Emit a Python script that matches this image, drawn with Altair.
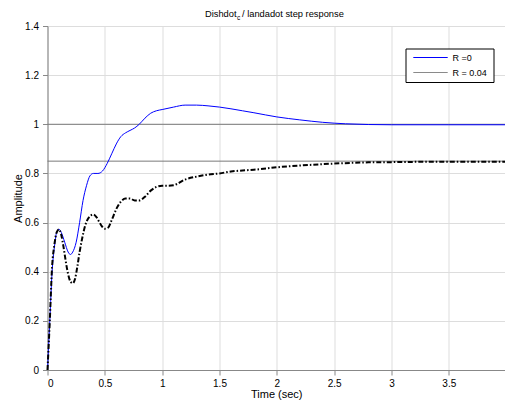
import altair as alt
import pandas as pd

# Step response, R = 0
t_r0 = [0, 0.02, 0.04, 0.06, 0.08, 0.1, 0.12, 0.15, 0.18, 0.2, 0.22, 0.25, 0.28, 0.31,
        0.34, 0.37, 0.4, 0.44, 0.48, 0.52, 0.56, 0.6, 0.64, 0.68, 0.72, 0.76, 0.8, 0.85,
        0.9, 0.95, 1.0, 1.1, 1.2, 1.3, 1.4, 1.5, 1.6, 1.7, 1.8, 2.0, 2.2, 2.4, 2.6, 2.8,
        3.0, 3.5, 4.0]
y_r0 = [0, 0.2, 0.4, 0.5, 0.56, 0.573, 0.56, 0.52, 0.48, 0.47, 0.48, 0.52, 0.6, 0.69,
        0.75, 0.79, 0.80, 0.80, 0.81, 0.84, 0.88, 0.92, 0.95, 0.965, 0.975, 0.985, 1.0,
        1.025, 1.045, 1.055, 1.06, 1.07, 1.078, 1.078, 1.075, 1.07, 1.063, 1.055, 1.047,
        1.03, 1.018, 1.008, 1.002, 0.999, 0.998, 0.998, 0.998]

# Step response, R = 0.04
t_r004 = [0, 0.02, 0.04, 0.06, 0.08, 0.1, 0.12, 0.14, 0.16, 0.18, 0.2, 0.22, 0.24, 0.26,
          0.28, 0.3, 0.33, 0.36, 0.4, 0.43, 0.46, 0.5, 0.53, 0.56, 0.6, 0.64, 0.68, 0.72,
          0.76, 0.8, 0.85, 0.9, 0.95, 1.0, 1.05, 1.1, 1.2, 1.3, 1.4, 1.5, 1.6, 1.7, 1.8,
          2.0, 2.2, 2.5, 2.8, 3.0, 3.5, 4.0]
y_r004 = [0, 0.2, 0.42, 0.51, 0.56, 0.572, 0.55, 0.5, 0.44, 0.39, 0.36, 0.353, 0.37, 0.42,
          0.48, 0.53, 0.59, 0.62, 0.633, 0.62, 0.595, 0.575, 0.58, 0.61, 0.655, 0.685,
          0.698, 0.698, 0.69, 0.69, 0.705, 0.73, 0.745, 0.75, 0.75, 0.752, 0.775, 0.787,
          0.795, 0.80, 0.808, 0.812, 0.815, 0.825, 0.832, 0.84, 0.845, 0.846, 0.848, 0.848]

steady_levels = [1.0, 0.85]
legend_labels = ["R =0", "R = 0.04"]
legend_colors = ["#0000ff", "#8a8a8a"]
x_ticks = [0, 0.5, 1, 1.5, 2, 2.5, 3, 3.5]
y_ticks = [0, 0.2, 0.4, 0.6, 0.8, 1.0, 1.2, 1.4]

FONT = "Liberation Sans"

xs = alt.Scale(domain=[0, 3.99], nice=False, zero=False)
ys = alt.Scale(domain=[0, 1.4], nice=False)

x_axis = alt.Axis(values=x_ticks, title="Time (sec)", grid=True, labelPadding=3,
                  titlePadding=0, format="~g", titleFontWeight="normal")
y_axis = alt.Axis(values=y_ticks, title="Amplitude", grid=True, labelPadding=4,
                  titlePadding=1, format="~g", titleFontWeight="normal")

r0 = pd.DataFrame({"t": t_r0, "y": y_r0})
r004 = pd.DataFrame({"t": t_r004, "y": y_r004})
levels = pd.DataFrame({"level": steady_levels})
one = pd.DataFrame({"k": [0]})

grid_layer = alt.Chart(r0).mark_line(opacity=0).encode(
    x=alt.X("t:Q", scale=xs, axis=x_axis),
    y=alt.Y("y:Q", scale=ys, axis=y_axis),
)

level_rules = alt.Chart(levels).mark_rule(color="#7a7a7a", strokeWidth=1).encode(
    y=alt.Y("level:Q", scale=ys, axis=y_axis)
)

line_r0 = alt.Chart(r0).mark_line(color="#0000ff", strokeWidth=1,
                                  interpolate="monotone").encode(
    x=alt.X("t:Q", scale=xs, axis=x_axis),
    y=alt.Y("y:Q", scale=ys, axis=y_axis),
)

line_r004 = alt.Chart(r004).mark_line(color="black", strokeWidth=2,
                                      strokeDash=[5, 2, 1.5, 2],
                                      interpolate="monotone").encode(
    x=alt.X("t:Q", scale=xs, axis=x_axis),
    y=alt.Y("y:Q", scale=ys, axis=y_axis),
)

# Title with a subscripted "c"
title_main = alt.Chart(one).mark_text(text="Dishdot", align="left", baseline="alphabetic",
                                      fontSize=9.3, font=FONT, color="black").encode(
    x=alt.value(157.5), y=alt.value(-9))
title_sub = alt.Chart(one).mark_text(text="c", align="left", baseline="alphabetic",
                                     fontSize=6.5, font=FONT, color="black").encode(
    x=alt.value(189.5), y=alt.value(-5.7))
title_rest = alt.Chart(one).mark_text(text="/ landadot step response", align="left",
                                      baseline="alphabetic", fontSize=9.3, font=FONT,
                                      color="black").encode(
    x=alt.value(194.5), y=alt.value(-9))

# Legend box with line samples (thin filled strips)
legend_box = alt.Chart(one).mark_rect(fill="white", stroke="black", strokeWidth=1).encode(
    x=alt.value(358.5), x2=alt.value(446.5), y=alt.value(23), y2=alt.value(56.5))
legend_layers = [legend_box]
for i in range(len(legend_labels)):
    yy = 31.5 + 15 * i
    legend_layers.append(
        alt.Chart(one).mark_rect(fill=legend_colors[i], strokeWidth=0).encode(
            x=alt.value(365.8), x2=alt.value(400.2),
            y=alt.value(yy - 0.6), y2=alt.value(yy + 0.6)))
    legend_layers.append(
        alt.Chart(one).mark_text(text=legend_labels[i], align="left", baseline="middle",
                                 fontSize=9, font=FONT, color="black").encode(
            x=alt.value(405), y=alt.value(yy)))

chart = alt.layer(
    grid_layer, level_rules, line_r0, line_r004, title_main, title_sub, title_rest,
    *legend_layers
).properties(
    width=457.5, height=344,
    autosize=alt.AutoSizeParams(type="none"),
    padding={"left": 47.5, "top": 26, "right": 0, "bottom": 31},
).configure_view(
    stroke="#707070", strokeWidth=1
).configure_axis(
    labelFont=FONT, labelFontSize=9, labelColor="#6e6e6e",
    titleFont=FONT, titleFontSize=9, titleColor="black", titleFontWeight="normal",
    gridColor="#b8b8b8", gridWidth=1, domainColor="#6a6a6a", domainWidth=1.5,
    ticks=False,
).configure(background="white")

chart.save("out.html", embed_options={"renderer": "svg", "actions": False})
